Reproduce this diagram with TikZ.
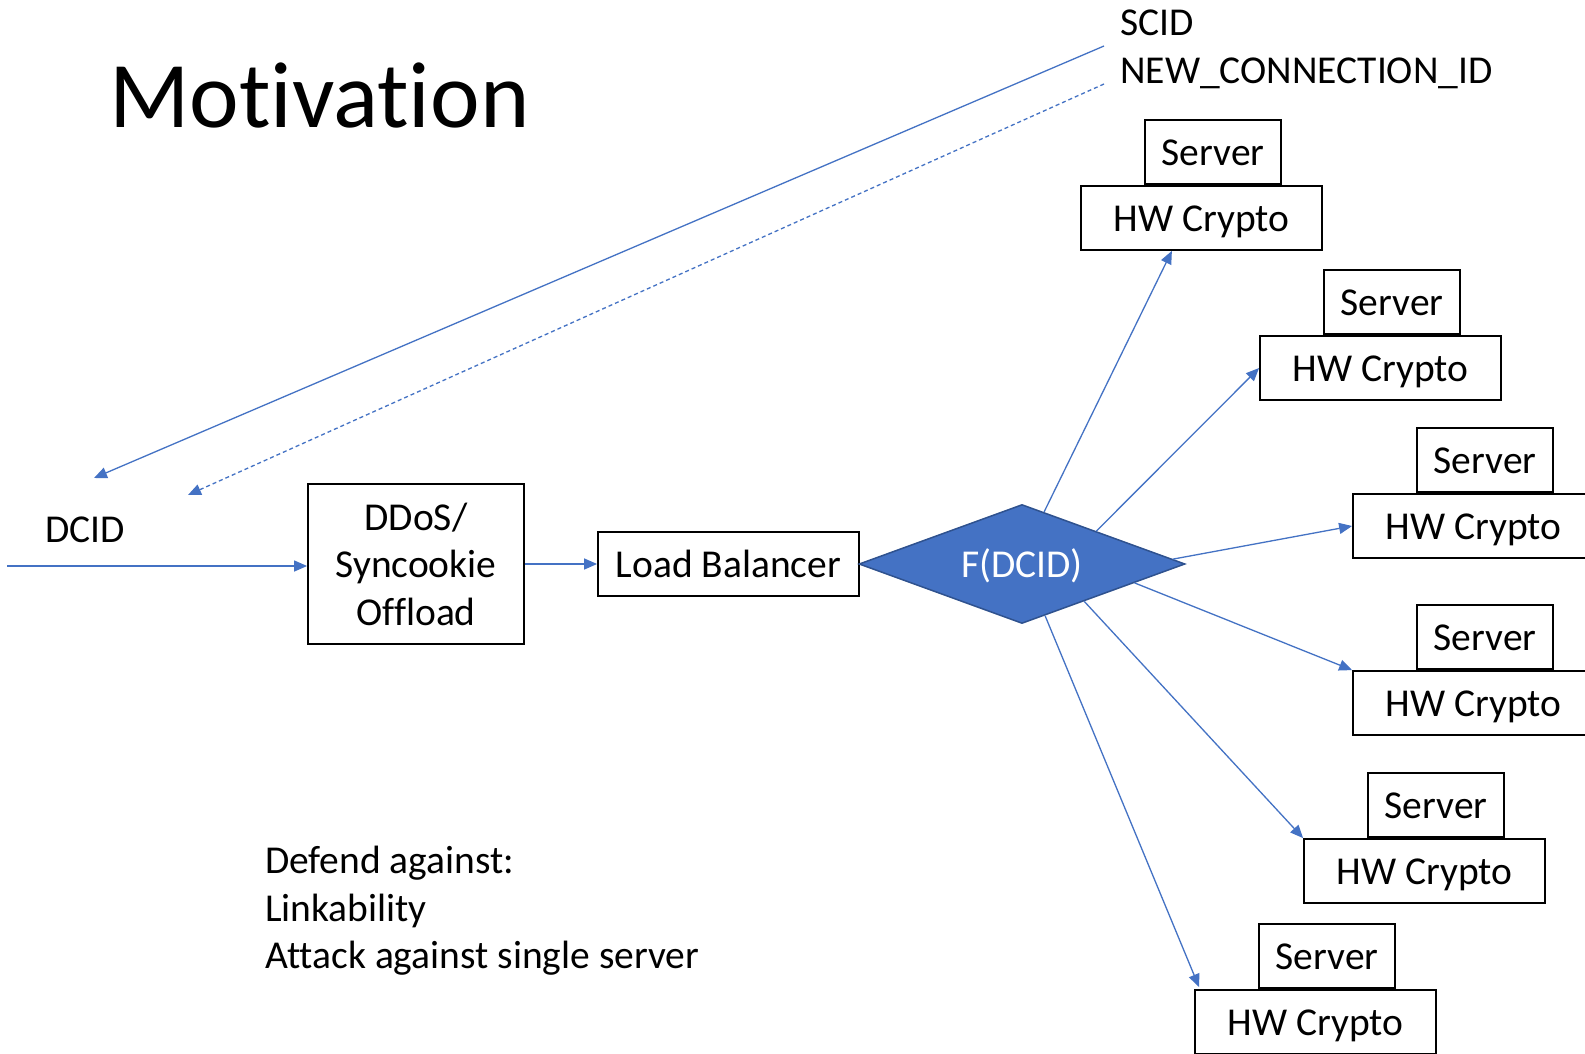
\documentclass[tikz,border=0pt]{standalone}
\usepackage{fontspec}
\setmainfont[Ligatures=NoCommon]{Carlito}
\usetikzlibrary{shapes.geometric,arrows.meta,calc}
\definecolor{lnblue}{HTML}{4472C4}
\definecolor{dmborder}{HTML}{2F528F}
\begin{document}
\begin{tikzpicture}[x=1pt,y=-1pt,
  txt/.style={font=\fontsize{39.5}{47.5}\selectfont, inner sep=0pt},
  box/.style={draw=black, line width=1.8pt, fill=white, inner sep=0pt, font=\fontsize{39.5}{47.5}\selectfont},
  onel/.style={text height=26pt, text depth=0pt},
  hwbox/.style={box, onel, minimum width=241pt, minimum height=64pt},
  srvbox/.style={box, onel, minimum width=136pt, minimum height=64pt, anchor=south west},
  conn/.style={draw=lnblue, line width=1.3pt, -{Triangle[length=13pt,width=11pt]}},
]
\clip (0,0) rectangle (1585,1054);
\fill[white] (0,0) rectangle (1585,1054);

\node[inner sep=0pt, anchor=base west, font=\fontsize{94}{110}\selectfont] (title) at (109,128) {Motivation};

\node[txt, anchor=base west] (scid) at (1120,36) {SCID};
\node[txt, anchor=base west] (ncid) at (1120,84) {NEW\_CONNECTION\_ID};
\node[txt, anchor=base west] (dcid) at (45,542) {DCID};

\coordinate (s1) at (1104,46);
\coordinate (s2) at (1104,84);
\coordinate (t1) at (94,478);
\coordinate (t2) at (188,495);
\coordinate (in) at (7,566);
\draw[conn] (s1) -- (t1);
\draw[conn, dash pattern=on 4pt off 3pt] (s2) -- (t2);

\node[box, minimum width=216pt, minimum height=160pt, align=center] (ddos) at (416,564) {DDoS/\\Syncookie\\Offload};
\node[box, onel, minimum width=261pt, minimum height=64pt] (lb) at (728.5,564) {Load Balancer};
\draw[conn] (in) -- (ddos.west |- in);
\draw[conn] (ddos.east) -- (lb.west);

\node[diamond, draw=dmborder, fill=lnblue, line width=1.5pt, minimum width=326pt, minimum height=119pt, inner sep=0pt, shape aspect=2.74, text=white, onel, font=\fontsize{39.5}{47.5}\selectfont] (f) at (1022,564) {F(DCID)};

\node[hwbox] (hw1) at (1201.5,218) {HW Crypto};
\node[srvbox] (sv1) at ($(hw1.north west)+(64,0)$) {Server};
\node[hwbox] (hw2) at (1380.5,368) {HW Crypto};
\node[srvbox] (sv2) at ($(hw2.north west)+(64,0)$) {Server};
\node[hwbox] (hw3) at (1473.5,526) {HW Crypto};
\node[srvbox] (sv3) at ($(hw3.north west)+(64,0)$) {Server};
\node[hwbox] (hw4) at (1473.5,703) {HW Crypto};
\node[srvbox] (sv4) at ($(hw4.north west)+(64,0)$) {Server};
\node[hwbox] (hw5) at (1424.5,871) {HW Crypto};
\node[srvbox] (sv5) at ($(hw5.north west)+(64,0)$) {Server};
\node[hwbox] (hw6) at (1315.5,1022) {HW Crypto};
\node[srvbox] (sv6) at ($(hw6.north west)+(64,0)$) {Server};

\draw[conn] ($(f.north)!0.135!(f.east)$) -- ($(hw1.south west)!0.378!(hw1.south east)$);
\draw[conn] ($(f.north)!0.454!(f.east)$) -- (hw2.west);
\draw[conn] ($(f.north)!0.92!(f.east)$) -- (hw3.west);
\draw[conn] ($(f.south)!0.687!(f.east)$) -- (hw4.north west);
\draw[conn] ($(f.south)!0.38!(f.east)$) -- (hw5.north west);
\draw[conn] ($(f.south)!0.141!(f.east)$) -- ($(hw6.north west)+(5,-2)$);

\node[txt, anchor=base west] (d1) at (265,873) {Defend against:};
\node[txt, anchor=base west] (d2) at (265,921) {Linkability};
\node[txt, anchor=base west] (d3) at (265,968) {Attack against single server};
\end{tikzpicture}
\end{document}
